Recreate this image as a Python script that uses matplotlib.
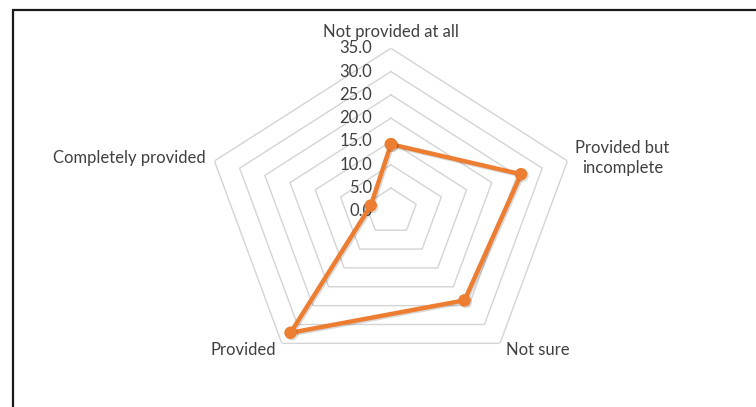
import numpy as np
import matplotlib
matplotlib.use("Agg")
import matplotlib.pyplot as plt
import matplotlib.patheffects as pe
from matplotlib.patches import Rectangle

plt.rcParams['font.family'] = ['Lato', 'DejaVu Sans']

# categorias en sentido horario desde arriba
categorias = ["Not provided at all", "Provided but\nincomplete", "Not sure",
              "Provided", "Completely provided"]
valores = [14.4, 25.8, 23.6, 32.2, 4.0]
niveles = [0, 5, 10, 15, 20, 25, 30, 35]

NARANJA = "#ED7D31"
GRIS_TEXTO = "#404040"
GRIS_REJILLA = "#D4D4D4"

fig = plt.figure(figsize=(7.56, 4.07), dpi=100)
ax = fig.add_axes([0.2716, 0.0799, 0.491, 0.8015], projection="polar")
ax.set_aspect("auto")
ax.set_theta_offset(np.pi / 2)
ax.set_theta_direction(-1)
ax.set_ylim(0, 35)

n = len(categorias)
angulos = np.linspace(0, 2 * np.pi, n, endpoint=False)
cerrado = np.concatenate([angulos, angulos[:1]])

# rejilla pentagonal
for r in niveles[1:]:
    ax.plot(cerrado, [r] * (n + 1), color=GRIS_REJILLA, lw=1.0, zorder=1)

# etiquetas del eje radial
for r in niveles:
    ax.annotate(f"{r:.1f}", xy=(0, r), xytext=(-13.5, 0), textcoords="offset points",
                ha="right", va="center", fontsize=12, color=GRIS_TEXTO,
                annotation_clip=False)

# etiquetas de categorias
desplaz = [(0, 12, "center", "center"), (5.5, 2, "left", "center"),
           (4, -5, "left", "center"), (-4, -5, "right", "center"),
           (-6, 2, "right", "center")]
for ang, nombre, (dx, dy, ha, va) in zip(angulos, categorias, desplaz):
    ax.annotate(nombre, xy=(ang, 35), xytext=(dx, dy), textcoords="offset points",
                ha=ha, va=va, multialignment="center", fontsize=12,
                linespacing=1.35, color=GRIS_TEXTO, annotation_clip=False)

sombra = [pe.SimpleLineShadow(offset=(1, -1), alpha=0.15), pe.Normal()]
ax.plot(cerrado, valores + valores[:1], color=NARANJA, lw=3.2, marker="o",
        markersize=8, zorder=3, path_effects=sombra)

ax.grid(False)
ax.set_xticks([])
ax.set_yticks([])
ax.spines["polar"].set_visible(False)
ax.patch.set_alpha(0)

# marco del grafico
fig.add_artist(Rectangle((12.5 / 756, -0.1), 1.2, (407 - 10) / 407 + 0.1,
                         transform=fig.transFigure, fill=False,
                         edgecolor="#1a1a1a", lw=1.6))

fig.savefig("out.png", dpi=100)
